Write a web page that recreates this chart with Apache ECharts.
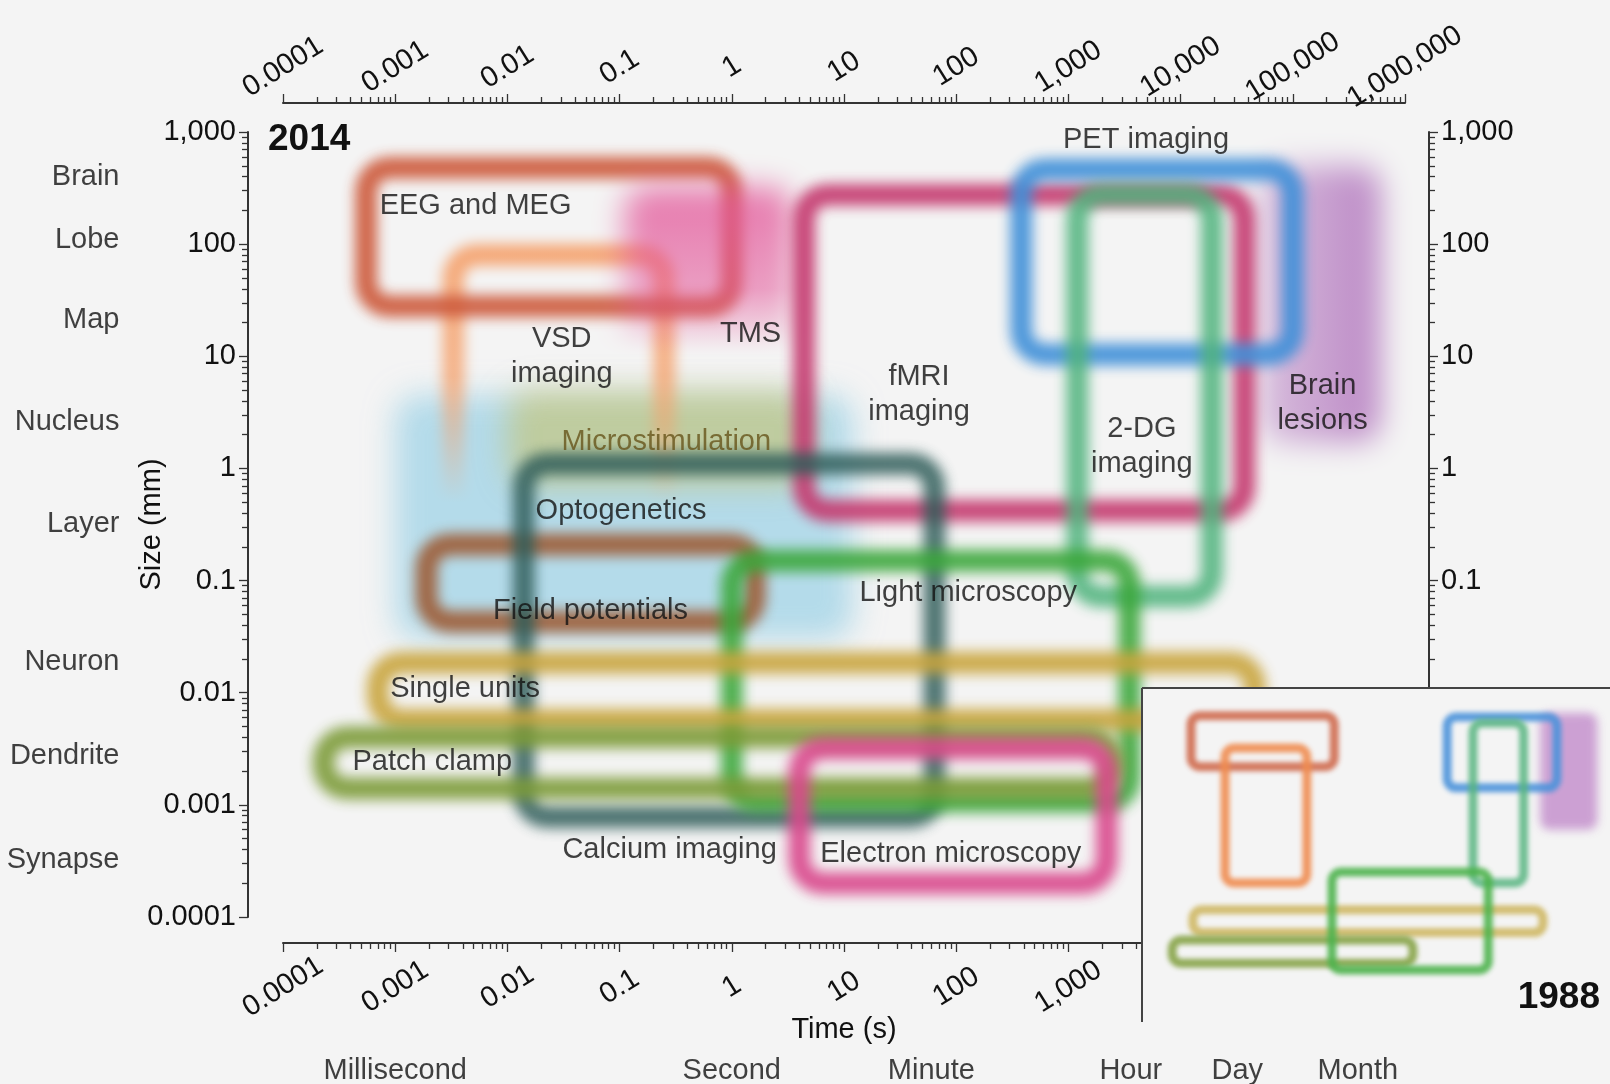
<!DOCTYPE html>
<html>
<head>
<meta charset="utf-8">
<title>Methods in neuroscience: time vs size</title>
<script src="https://cdn.jsdelivr.net/npm/echarts@6/dist/echarts.min.js"></script>
<style>
  html, body { margin: 0; padding: 0; background: #f4f4f4; }
  #main { width: 1610px; height: 1084px; }
</style>
</head>
<body>
<div id="main"></div>
<script>
// 2014 panel: one box per technique (time in s, size in mm), in drawing order
const techniques = ['Optogenetics', 'Microstimulation', 'Brain lesions', 'VSD imaging', 'EEG and MEG', 'TMS',
  'fMRI imaging', 'PET imaging', '2-DG imaging', 'Field potentials', 'Calcium imaging', 'Light microscopy',
  'Single units', 'Patch clamp', 'Electron microscopy']
const timeMin = [1e-3, 0.01, 5e4, 3.3e-3, 5.5e-4, 0.11, 4.4, 380, 1200, 1.9e-3, 0.014, 1, 7e-4, 2.3e-4, 4]
const timeMax = [12, 5, 6e5, 0.25, 1, 3.5, 3.7e4, 1e5, 1.9e4, 1.6, 64, 3500, 4.6e4, 2500, 2200]
const sizeMin = [0.03, 0.7, 1.7, 0.3, 28, 10, 0.42, 10.4, 0.072, 0.043, 7.8e-4, 1.07e-3, 5.7e-3, 1.4e-3, 2e-4]
const sizeMax = [4.5, 5, 500, 80, 480, 320, 275, 464, 275, 0.21, 1.1, 0.15, 0.0185, 4e-3, 3.2e-3]
const boxColor = ['#8ccbe3', '#c9bd55', '#b57cc0', '#f5a06a', '#cd5a3c', '#e3589a', '#c4396f', '#3f8fd8', '#4fb37c',
  '#9c5a33', '#2e5c58', '#3aa63a', '#c9a43c', '#7b9a36', '#d9488c']
const boxKind = ['fill', 'fill', 'fillLeft', 'arch', 'ring', 'fillDown', 'ring', 'ring', 'ring', 'ring', 'ring', 'ring',
  'ring', 'ring', 'ring']
const boxAlpha = [0.62, 0.5, 0.9, 0.9, 0.92, 0.8, 0.92, 0.92, 0.88, 0.9, 0.85, 0.9, 0.9, 0.9, 0.92]

// labels inside the plot
const labelText = ['EEG and MEG', 'VSD\nimaging', 'TMS', 'fMRI\nimaging', 'PET imaging', '2-DG\nimaging', 'Brain\nlesions',
  'Microstimulation', 'Optogenetics', 'Field potentials', 'Light microscopy', 'Single units', 'Patch clamp',
  'Calcium imaging', 'Electron microscopy']
const labelTime = [5.2e-3, 0.0305, 1.47, 46.6, 4920, 4510, 1.84e5, 0.261, 0.103, 0.055, 128, 4.2e-3, 2.14e-3, 0.279, 89.5]
const labelSize = [221, 9.9, 15.8, 4.55, 855, 1.58, 3.77, 1.73, 0.42, 0.054, 0.0773, 0.01086, 2.43e-3, 3.95e-4, 3.63e-4]

// structure names on the size axis, time names under the time axis
const structureNames = ['Brain', 'Lobe', 'Map', 'Nucleus', 'Layer', 'Neuron', 'Dendrite', 'Synapse']
const structureSize = [400, 110, 21, 2.6, 0.32, 0.0186, 0.0027, 0.00032]
const timeNames = ['Millisecond', 'Second', 'Minute', 'Hour', 'Day', 'Month']
const timeMarks = [1e-3, 1, 60, 3600, 3.2e4, 3.8e5]

// 1988 inset
const inset88 = ['Brain lesions', 'EEG and MEG', 'VSD imaging', 'PET imaging', '2-DG imaging', 'Single units',
  'Patch clamp', 'Light microscopy']
const time88Min = [3.9e4, 1e-3, 5.5e-3, 370, 1350, 1.1e-3, 3.9e-4, 1.16]
const time88Max = [6.8e5, 1.3, 0.33, 9e4, 1.7e4, 4.5e4, 67, 2900]
const size88Min = [0.5, 20, 0.022, 5.8, 0.022, 1.2e-3, 2e-4, 1.35e-4]
const size88Max = [470, 400, 60, 370, 260, 4.6e-3, 7.8e-4, 0.042]
const color88 = ['#c28bcb', '#cf6a4e', '#f08c50', '#4a92da', '#56b47f', '#cdb45a', '#86a347', '#4db24d']
const kind88 = ['fill', 'ring', 'ring', 'ring', 'ring', 'ring', 'ring', 'ring']
const alpha88 = [0.8, 0.9, 0.9, 0.9, 0.85, 0.85, 0.9, 0.9]

const BG = '#f4f4f4'
const INK = '#111'
const FONT = 'Liberation Sans'
const FS = 29
const OFF = 4000 // shapes are drawn off-canvas, only their blurred shadow lands in place

function rgba(hex, a) {
  const n = parseInt(hex.slice(1), 16)
  return 'rgba(' + (n >> 16) + ',' + ((n >> 8) & 255) + ',' + (n & 255) + ',' + a + ')'
}

function boxRenderer(colors, kinds, alphas, lineW, radius, blur, fillBlur) {
  return function (params, api) {
    const i = api.value(4)
    const p0 = api.coord([api.value(0), api.value(3)])
    const p1 = api.coord([api.value(1), api.value(2)])
    const c = colors[i]
    const a = alphas[i]
    const kind = kinds[i]
    const style = { shadowColor: c, shadowOffsetX: OFF, shadowBlur: blur }
    if (kind === 'ring') {
      style.fill = 'none'
      style.stroke = rgba(c, a)
      style.lineWidth = lineW
    } else if (kind === 'arch') {
      style.fill = 'none'
      style.lineWidth = lineW
      style.stroke = new echarts.graphic.LinearGradient(0, 0, 0, 1, [
        { offset: 0, color: rgba(c, a) },
        { offset: 0.45, color: rgba(c, a * 0.85) },
        { offset: 0.88, color: rgba(c, 0) },
        { offset: 1, color: rgba(c, 0) }
      ])
    } else if (kind === 'fillDown') {
      style.shadowBlur = fillBlur
      style.fill = new echarts.graphic.LinearGradient(0, 0, 0, 1, [
        { offset: 0, color: rgba(c, a) },
        { offset: 0.6, color: rgba(c, a * 0.7) },
        { offset: 1, color: rgba(c, 0) }
      ])
    } else if (kind === 'fillLeft') {
      style.shadowBlur = fillBlur
      style.fill = new echarts.graphic.LinearGradient(0, 0, 1, 0, [
        { offset: 0, color: rgba(c, a * 0.5) },
        { offset: 1, color: rgba(c, a) }
      ])
    } else {
      style.shadowBlur = fillBlur
      style.fill = rgba(c, a)
    }
    return {
      type: 'rect',
      shape: { x: p0[0] - OFF, y: p0[1], width: p1[0] - p0[0], height: p1[1] - p0[1], r: radius },
      style: style
    }
  }
}

function fmt(v) {
  return v >= 1000 ? v.toLocaleString('en-US') : String(v)
}

const axisLineStyle = { color: '#333', width: 2 }
const tickStyle = { color: '#333', width: 1.3 }

function logAxis(extra) {
  return Object.assign({
    type: 'log',
    logBase: 10,
    interval: 1,
    nameMoveOverlap: false,
    axisLine: { show: true, lineStyle: axisLineStyle },
    axisTick: { show: true, inside: false, length: 9, lineStyle: tickStyle },
    minorTick: { show: true, splitNumber: 9, length: 6, lineStyle: tickStyle },
    splitLine: { show: false },
    minorSplitLine: { show: false },
    axisLabel: { color: INK, fontSize: FS, fontFamily: FONT, formatter: fmt }
  }, extra)
}

const boxes = techniques.map((t, i) => [timeMin[i], timeMax[i], sizeMin[i], sizeMax[i], i])
const boxes88 = inset88.map((t, i) => [time88Min[i], time88Max[i], size88Min[i], size88Max[i], i])

const chart = echarts.init(document.getElementById('main'))
chart.setOption({
  backgroundColor: BG,
  animation: false,
  textStyle: { fontFamily: FONT },
  title: [
    { text: '2014', left: 268, top: 121, padding: 0, textStyle: { fontSize: 37, fontWeight: 'bold', color: '#111', fontFamily: FONT } },
    { text: '1988', right: 10, top: 979, padding: 0, z: 70, textStyle: { fontSize: 37, fontWeight: 'bold', color: '#111', fontFamily: FONT } }
  ],
  grid: [
    { left: 283, right: 205, top: 132, bottom: 167 },
    { left: 1145, top: 700, width: 460, height: 275 }
  ],
  xAxis: [
    logAxis({
      gridIndex: 0, position: 'bottom', offset: 26, min: 1e-4, max: 1e6,
      name: 'Time (s)', nameLocation: 'middle', nameGap: 72,
      nameTextStyle: { fontSize: FS, color: INK, fontFamily: FONT },
      // the inset covers the axis beyond 1,000 s
      axisLabel: { color: INK, fontSize: FS, fontFamily: FONT, formatter: v => (v > 1000 ? '' : fmt(v)), rotate: 32, align: 'center', verticalAlign: 'middle', margin: 44 }
    }),
    logAxis({
      gridIndex: 0, position: 'top', offset: 29, min: 1e-4, max: 1e6,
      axisLabel: { color: INK, fontSize: FS, fontFamily: FONT, formatter: fmt, rotate: -32, align: 'center', verticalAlign: 'middle', margin: 36 }
    }),
    { type: 'log', gridIndex: 1, min: 1e-4, max: 1e6, show: false }
  ],
  yAxis: [
    logAxis({
      gridIndex: 0, position: 'left', offset: 35, min: 1e-4, max: 1e3,
      name: 'Size (mm)', nameLocation: 'middle', nameRotate: 90, nameGap: 82,
      nameTextStyle: { fontSize: FS, color: INK, fontFamily: FONT },
      axisLabel: { color: INK, fontSize: FS, fontFamily: FONT, formatter: fmt, margin: 12 }
    }),
    logAxis({
      gridIndex: 0, position: 'right', offset: 24, min: 1e-4, max: 1e3,
      axisLabel: { color: INK, fontSize: FS, fontFamily: FONT, margin: 12, formatter: v => (v < 0.05 ? '' : fmt(v)) }
    }),
    { type: 'log', gridIndex: 1, min: 1e-4, max: 1e3, show: false }
  ],
  graphic: [
    { type: 'rect', left: 1142, top: 688, z: 50, silent: true, shape: { width: 468, height: 334 }, style: { fill: BG } },
    { type: 'line', z: 51, silent: true, shape: { x1: 1142, y1: 688, x2: 1610, y2: 688 }, style: { stroke: '#444', lineWidth: 2 } },
    { type: 'line', z: 51, silent: true, shape: { x1: 1142, y1: 688, x2: 1142, y2: 1022 }, style: { stroke: '#444', lineWidth: 2 } }
  ],
  series: [
    {
      name: '2014',
      type: 'custom',
      xAxisIndex: 0,
      yAxisIndex: 0,
      silent: true,
      clip: false,
      renderItem: boxRenderer(boxColor, boxKind, boxAlpha, 22, 24, 13, 30),
      data: boxes
    },
    {
      name: 'labels',
      type: 'scatter',
      xAxisIndex: 0,
      yAxisIndex: 0,
      silent: true,
      symbolSize: 1,
      itemStyle: { color: 'rgba(0,0,0,0)' },
      data: labelText.map((t, i) => ({
        value: [labelTime[i], labelSize[i]],
        label: { color: t === 'Microstimulation' ? '#66541a' : INK }
      })),
      label: {
        show: true,
        position: 'inside',
        fontSize: FS,
        lineHeight: 35,
        fontFamily: FONT,
        align: 'center',
        formatter: p => labelText[p.dataIndex]
      }
    },
    {
      name: 'structures',
      type: 'scatter',
      xAxisIndex: 0,
      yAxisIndex: 0,
      silent: true,
      symbolSize: 1,
      itemStyle: { color: 'rgba(0,0,0,0)' },
      data: structureSize.map(s => [1e-4, s]),
      label: {
        show: true, position: 'left', distance: 163, color: INK, fontSize: FS, fontFamily: FONT,
        formatter: p => structureNames[p.dataIndex]
      }
    },
    {
      name: 'time names',
      type: 'scatter',
      xAxisIndex: 0,
      yAxisIndex: 0,
      silent: true,
      symbolSize: 1,
      itemStyle: { color: 'rgba(0,0,0,0)' },
      data: timeMarks.map(t => [t, 1e-4]),
      label: {
        show: true, position: 'bottom', distance: 139, color: INK, fontSize: FS, fontFamily: FONT,
        formatter: p => timeNames[p.dataIndex]
      }
    },
    {
      name: '1988',
      type: 'custom',
      xAxisIndex: 2,
      yAxisIndex: 2,
      silent: true,
      clip: false,
      z: 60,
      renderItem: boxRenderer(color88, kind88, alpha88, 9, 9, 5, 10),
      data: boxes88
    }
  ]
})
</script>
</body>
</html>
